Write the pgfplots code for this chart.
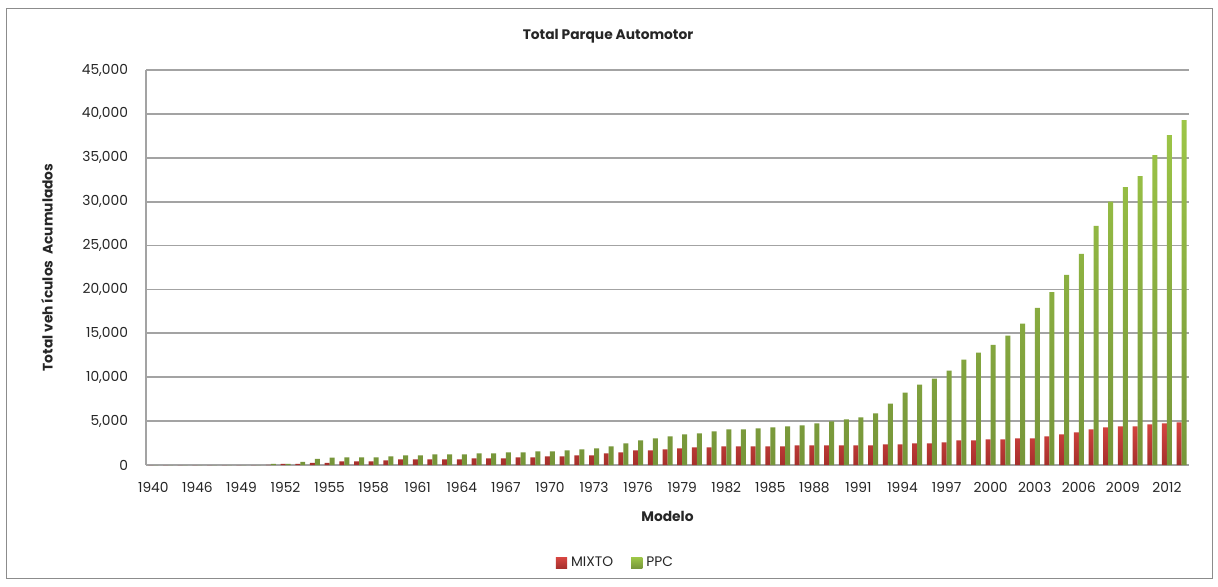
\documentclass[border=0pt]{standalone}
\usepackage{fontspec}
\setmainfont{Poppins}
\usepackage{pgfplots}
\pgfplotsset{compat=1.18}
\usepackage{pgfplotstable}

\definecolor{redTop}{HTML}{D64541}
\definecolor{redBot}{HTML}{A52F2C}
\definecolor{grnTop}{HTML}{9DC647}
\definecolor{grnBot}{HTML}{76953A}
\definecolor{gridGray}{HTML}{A3A3A3}
\definecolor{frameGray}{HTML}{8C8C8C}
\definecolor{txt}{HTML}{262626}

% Accumulated vehicles by model year (idx 0 = 1940, idx n = 1943+n for n >= 3)
\pgfplotstableread{
idx mixto ppc
0 0 0
1 0 0
2 0 0
3 0 0
4 0 0
5 0 0
6 0 0
7 0 0
8 10 120
9 120 120
10 120 350
11 230 690
12 230 850
13 420 870
14 420 870
15 420 870
16 530 980
17 640 1100
18 640 1100
19 640 1210
20 640 1210
21 640 1210
22 760 1330
23 760 1330
24 760 1440
25 870 1440
26 870 1550
27 980 1550
28 980 1670
29 1100 1780
30 1100 1890
31 1330 2120
32 1440 2460
33 1670 2800
34 1670 3030
35 1780 3260
36 1890 3480
37 2000 3600
38 2000 3830
39 2120 4050
40 2120 4050
41 2120 4170
42 2120 4280
43 2120 4390
44 2230 4510
45 2230 4730
46 2230 4960
47 2230 5190
48 2230 5420
49 2230 5870
50 2350 7000
51 2350 8260
52 2460 9170
53 2460 9850
54 2580 10760
55 2800 12000
56 2800 12800
57 2920 13700
58 2920 14730
59 3030 16100
60 3030 17900
61 3260 19700
62 3480 21670
63 3710 24050
64 4050 27230
65 4280 30000
66 4390 31670
67 4390 32900
68 4620 35300
69 4730 37580
70 4850 39280
}\parque

\newcommand{\chartfont}{\fontsize{6.9}{8.3}\selectfont}

\begin{document}
\begin{tikzpicture}[font=\chartfont, text=txt]
\path[use as bounding box] (0,0) rectangle (609pt,293pt);
\fill[white] (0,0) rectangle (609pt,293pt);
\draw[frameGray, line width=0.5pt] (3pt,4pt) rectangle (606pt,289pt);
\node[font=\chartfont\bfseries] at (304pt,275pt) {Total Parque Automotor};

\begin{axis}[
  at={(73pt,60.5pt)}, anchor=south west,
  scale only axis, width=521.5pt, height=197.5pt,
  xmin=-0.5, xmax=70.5,
  ymin=0, ymax=45000,
  ytick={0,5000,...,45000},
  xtick={0,3,...,69},
  xticklabels={1940,1946,1949,1952,1955,1958,1961,1964,1967,1970,1973,1976,1979,1982,1985,1988,1991,1994,1997,2000,2003,2006,2009,2012},
  major tick length=0pt,
  ymajorgrids,
  grid style={gridGray, line width=0.9pt},
  axis line style={gridGray, line width=0.6pt},
  axis x line*=bottom, axis y line*=left,
  x axis line style={gridGray, line width=1.1pt},
  /pgf/number format/assume math mode=true,
  /pgf/number format/1000 sep={,},
  scaled y ticks=false,
  tick label style={font=\chartfont, text=txt},
  yticklabel style={anchor=east, xshift=-5.5pt},
  xticklabel style={anchor=north, yshift=-5pt},
  xlabel={Modelo},
  ylabel={Total veh ículos\ \ Acumulados},
  every axis x label/.style={at={(rel axis cs:0.5,0)}, yshift=-25.5pt, anchor=center, font=\chartfont\bfseries},
  every axis y label/.style={at={(rel axis cs:0,0.5)}, xshift=-49.5pt, rotate=90, anchor=center, font=\chartfont\bfseries},
  ybar, bar width=0.34,
  legend style={at={(0.451,-0.248)}, anchor=center, draw=none, fill=none,
    legend columns=2, font=\chartfont,
    /tikz/every even column/.append style={column sep=7pt}},
  legend image code/.code={\fill[#1] (0pt,-2.8pt) rectangle (5.6pt,2.8pt);},
  clip=false,
]
\addplot[draw=none, top color=redTop, bottom color=redBot, bar shift=-0.17] table[x=idx, y=mixto] {\parque};
\addlegendentry{MIXTO}
\addplot[draw=none, top color=grnTop, bottom color=grnBot, bar shift=0.17] table[x=idx, y=ppc] {\parque};
\addlegendentry{PPC}
\end{axis}
\end{tikzpicture}
\end{document}
